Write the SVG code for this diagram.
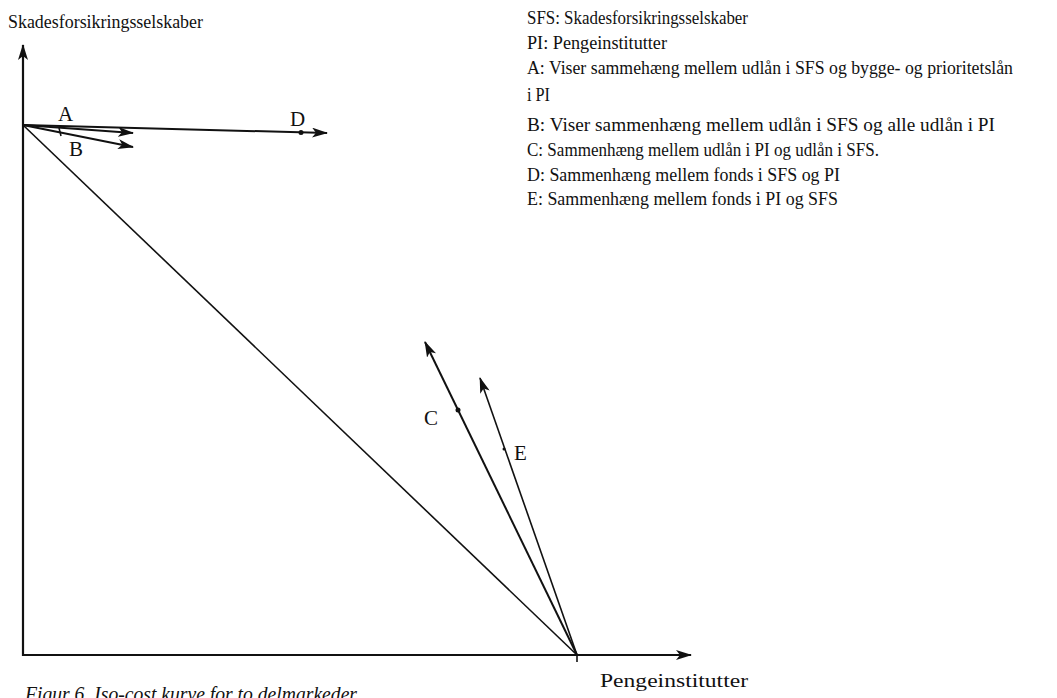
<svg xmlns="http://www.w3.org/2000/svg" width="1057" height="698" viewBox="0 0 1057 698">
<style>
text{font-family:"Liberation Serif","Times New Roman",serif;fill:#111}
.t{font-size:18px}
.lbl{font-size:21px}
.ax{stroke:#111;fill:none;stroke-width:2.2}
.ln{stroke:#111;fill:none;stroke-width:2}
.thin{stroke:#111;fill:none;stroke-width:1.6}
.cap{font-size:22px;font-style:italic}
</style>
<defs>
<marker id="ah" viewBox="0 0 16 10" refX="15" refY="5" markerWidth="16" markerHeight="10" markerUnits="userSpaceOnUse" orient="auto">
<path d="M0,0 L16,5 L0,10 L4,5 z" fill="#111"/>
</marker>
</defs>
<rect width="1057" height="698" fill="#fff"/>
<g id="axes">
<text class="t" x="8" y="28" textLength="195" lengthAdjust="spacingAndGlyphs">Skadesforsikringsselskaber</text>
<line class="ax" x1="23" y1="656" x2="23" y2="45" marker-end="url(#ah)"/>
<line class="ax" x1="22" y1="655" x2="691" y2="655" marker-end="url(#ah)"/>
<text class="t" x="600" y="687" textLength="148" lengthAdjust="spacingAndGlyphs">Pengeinstitutter</text>
<line class="thin" x1="577" y1="655" x2="577" y2="662"/>
</g>
<g id="connectors">
<line class="thin" x1="23" y1="125" x2="577" y2="655"/>
<line class="ln" x1="23" y1="125" x2="327" y2="133" marker-end="url(#ah)"/>
<line class="ln" x1="23" y1="125" x2="133" y2="133" marker-end="url(#ah)"/>
<line class="ln" x1="23" y1="125" x2="133" y2="147" marker-end="url(#ah)"/>
<line class="ln" x1="577" y1="655" x2="425" y2="342" marker-end="url(#ah)"/>
<line class="thin" x1="577" y1="655" x2="480" y2="378" marker-end="url(#ah)"/>
<circle cx="301" cy="132.5" r="2.5" fill="#111"/>
<circle cx="458" cy="410" r="2.5" fill="#111"/>
<line class="thin" x1="59" y1="128" x2="61" y2="136"/>
<circle cx="504" cy="449" r="1.5" fill="#111"/>
</g>
<g id="labels">
<text class="lbl" x="58" y="121">A</text>
<text class="lbl" x="69" y="156">B</text>
<text class="lbl" x="290" y="126">D</text>
<text class="lbl" x="424" y="425">C</text>
<text class="lbl" x="514" y="460">E</text>
</g>
<g id="legend">
<text class="t" x="527" y="24" textLength="221" lengthAdjust="spacingAndGlyphs">SFS: Skadesforsikringsselskaber</text>
<text class="t" x="527" y="49" textLength="140" lengthAdjust="spacingAndGlyphs">PI: Pengeinstitutter</text>
<text class="t" x="527" y="74" textLength="486" lengthAdjust="spacingAndGlyphs">A: Viser sammehæng mellem udlån i SFS og bygge- og prioritetslån</text>
<text class="t" x="527" y="101" textLength="23" lengthAdjust="spacingAndGlyphs">i PI</text>
<text class="t" x="527" y="131" textLength="468" lengthAdjust="spacingAndGlyphs">B: Viser sammenhæng mellem udlån i SFS og alle udlån i PI</text>
<text class="t" x="527" y="156" textLength="352" lengthAdjust="spacingAndGlyphs">C: Sammenhæng mellem udlån i PI og udlån i SFS.</text>
<text class="t" x="527" y="181" textLength="313" lengthAdjust="spacingAndGlyphs">D: Sammenhæng mellem fonds i SFS og PI</text>
<text class="t" x="527" y="205" textLength="311" lengthAdjust="spacingAndGlyphs">E: Sammenhæng mellem fonds i PI og SFS</text>
</g>
<text class="cap" x="25" y="701" textLength="332" lengthAdjust="spacingAndGlyphs">Figur 6. Iso-cost kurve for to delmarkeder</text>
</svg>
